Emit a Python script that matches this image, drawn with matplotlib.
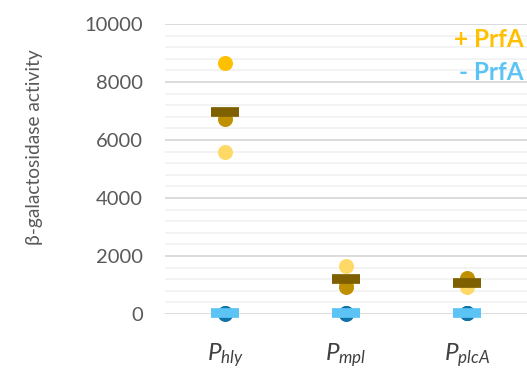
import numpy as np
import matplotlib
matplotlib.use("Agg")
import matplotlib.pyplot as plt

# Promoters and replicate measurements (Miller units)
promoters = ["hly", "mpl", "plcA"]
plus_rep1 = [8640, 1000, 1100]   # gold
plus_rep2 = [6710, 930, 1230]    # dark gold
plus_rep3 = [5600, 1650, 920]    # light gold
minus_rep1 = [15, 20, 18]
minus_rep2 = [25, 30, 22]
minus_rep3 = [20, 12, 26]

yticks = [0, 2000, 4000, 6000, 8000, 10000]

plt.rcParams["font.family"] = ["Lato", "DejaVu Sans"]
plt.rcParams["mathtext.fontset"] = "custom"
plt.rcParams["mathtext.it"] = "Lato:italic"
plt.rcParams["mathtext.rm"] = "Lato"

fig = plt.figure(figsize=(5.27, 3.68), dpi=100)
ax = fig.add_axes([0.313, 0.1467, 0.687, 0.788])

x = np.arange(len(promoters))
ax.set_xlim(-0.5, 2.5)
ax.set_ylim(0, 10000)

# gridlines: light every 400, darker every 2000
for v in np.arange(0, 10001, 400):
    major = (v % 2000 == 0)
    ax.axhline(v, color="#D9D9D9" if major else "#F0F0F0",
               lw=1.3 if major else 1.1, zorder=0)

ms = 10.8
dot_kw = dict(marker="o", ls="none", ms=ms, mew=0, clip_on=False)
ax.plot(x, plus_rep1, color="#FFC000", zorder=3, **dot_kw)
ax.plot(x, plus_rep2, color="#BF9000", zorder=3, **dot_kw)
ax.plot(x, plus_rep3, color="#FFD966", zorder=3, **dot_kw)

minus_all = np.array([minus_rep1, minus_rep2, minus_rep3])
for reps in minus_all:
    ax.plot(x, reps, color="#1172A8", zorder=3, **dot_kw)

plus_mean = np.mean([plus_rep1, plus_rep2, plus_rep3], axis=0)
minus_mean = minus_all.mean(axis=0)

bar_kw = dict(marker="_", ls="none", ms=20, mew=7, clip_on=False)
ax.plot(x, plus_mean, color="#7F6000", zorder=4, **bar_kw)
ax.plot(x, minus_mean, color="#5BC4F5", zorder=4, **bar_kw)

for s in ax.spines.values():
    s.set_visible(False)
ax.tick_params(length=0)
ax.set_yticks(yticks)
ax.set_yticklabels([str(t) for t in yticks], fontsize=14.5, color="#595959")
ax.tick_params(axis="y", pad=16)
ax.set_xticks([])

for xi, name in zip(x, promoters):
    ax.text(xi, -1420, r"$\mathit{P}_{\mathit{%s}}$" % name, ha="center",
            va="center", fontsize=17.5, color="#404040", clip_on=False)

fig.text(0.066, 0.60, "β-galactosidase activity", rotation=90,
         ha="center", va="center", fontsize=13.8, color="#595959")

ax.text(0.99, 0.945, "+ PrfA", transform=ax.transAxes, ha="right",
        va="center", fontsize=17.5, fontweight="bold", color="#FFC000")
ax.text(0.99, 0.834, "- PrfA", transform=ax.transAxes, ha="right",
        va="center", fontsize=17.5, fontweight="bold", color="#5BC4F5")

fig.savefig("out.png", dpi=100)
